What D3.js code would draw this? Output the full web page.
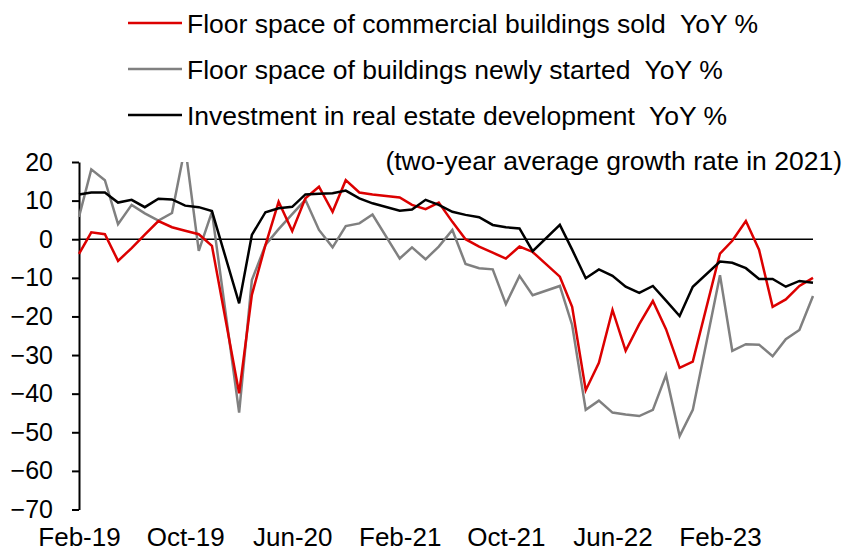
<!DOCTYPE html>
<html>
<head>
<meta charset="utf-8">
<script src="https://cdn.jsdelivr.net/npm/d3@7/dist/d3.min.js"></script>
<style>
  body { margin: 0; background: #fff; }
  svg text { font-family: Arial, "Liberation Sans", sans-serif; fill: #000; }
</style>
</head>
<body>
<script>
const width = 846, height = 552;

// monthly, Feb-19 .. Sep-23 (no January figures are published, so those are null)
const months = d3.timeMonth.range(new Date(2019, 1, 1), new Date(2023, 9, 1));

const soldYoY = [
  -3.8, 1.8, 1.3, -5.6, -2.3, 1.2, 4.7, 3.1, 2.2, 1.3, -1.7,
  null, -39.9, -14.4, -1.5, 9.7, 2.1, 10.6, 13.6, 7.1, 15.3, 12.1, 11.6,
  null, 10.8, 8.9, 7.8, 9.5, 4.5, 0.0, -1.9, -3.5, -5.0, -1.9, -3.3,
  null, -9.7, -17.5, -39.1, -32.0, -18.3, -28.9, -22.0, -16.0, -23.3, -33.3, -31.7,
  null, -3.7, -0.4, 4.7, -2.7, -17.5, -15.6, -12.1, -10.0
];
const startedYoY = [
  5.8, 18.1, 15.3, 3.9, 8.9, 6.7, 4.8, 6.8, 24.0, -3.0, 7.1,
  null, -44.9, -10.6, -1.5, 2.6, 6.5, 10.2, 2.4, -2.1, 3.4, 4.1, 6.4,
  null, -5.0, -2.1, -5.2, -1.9, 2.4, -6.4, -7.5, -7.8, -16.8, -9.5, -14.5,
  null, -12.1, -22.2, -44.2, -41.8, -44.9, -45.4, -45.8, -44.2, -35.2, -51.0, -44.2,
  null, -9.3, -28.9, -27.2, -27.3, -30.3, -25.9, -23.5, -14.7
];
const investYoY = [
  11.6, 12.1, 12.1, 9.5, 10.2, 8.3, 10.5, 10.3, 8.7, 8.3, 7.3,
  null, -16.6, 1.1, 7.0, 8.0, 8.4, 11.6, 11.8, 11.9, 12.6, 10.6, 9.3,
  null, 7.4, 7.7, 10.2, 8.9, 7.1, 6.3, 5.7, 3.7, 3.1, 2.8, -3.1,
  null, 3.7, -2.7, -10.1, -7.8, -9.5, -12.3, -13.9, -12.1, -15.9, -19.9, -12.3,
  null, -5.8, -6.1, -7.5, -10.3, -10.3, -12.3, -10.8, -11.3
];

const seriesNames = [
  "Floor space of commercial buildings sold  YoY %",
  "Floor space of buildings newly started  YoY %",
  "Investment in real estate development  YoY %"
];
const seriesColors = ["#dc0000", "#808080", "#000000"];
const legendNote = "(two-year average growth rate in 2021)";

const tickLabels = ["Feb-19", "Oct-19", "Jun-20", "Feb-21", "Oct-21", "Jun-22", "Feb-23"];
const yTicks = [20, 10, 0, -10, -20, -30, -40, -50, -60, -70];

const plotLeft = 79, plotRight = 813, plotTop = 162, plotBottom = 509.5;

const svg = d3.select("body")
  .append("svg")
  .attr("width", width)
  .attr("height", height);

// scales
const x = d3.scaleTime()
  .domain([months[0], months[months.length - 1]])
  .range([plotLeft, plotRight]);

const y = d3.scaleLinear()
  .domain([-70, 20])
  .range([plotBottom, plotTop]);

svg.append("clipPath")
  .attr("id", "plotClip")
  .append("rect")
  .attr("x", plotLeft - 5)
  .attr("y", plotTop)
  .attr("width", plotRight - plotLeft + 10)
  .attr("height", plotBottom - plotTop);

// y axis
const yAxis = svg.append("g")
  .attr("transform", "translate(" + plotLeft + ",0)")
  .call(d3.axisLeft(y).tickValues(yTicks).tickSize(7).tickSizeOuter(0).tickPadding(19));
yAxis.select(".domain").attr("stroke", "#000").attr("stroke-width", 2);
yAxis.selectAll(".tick line").attr("stroke", "#000").attr("stroke-width", 2);
yAxis.selectAll("text").style("font-size", "25px");

// x axis labels (no ticks, no line: the zero line plays that part)
const tickDates = tickLabels.map(d => d3.timeParse("%b-%y")(d));
const xAxis = svg.append("g")
  .attr("transform", "translate(0," + plotBottom + ")")
  .call(d3.axisBottom(x).tickValues(tickDates).tickFormat(d3.timeFormat("%b-%y")).tickSize(0).tickPadding(18.5));
xAxis.select(".domain").remove();
xAxis.selectAll("text").style("font-size", "26px");

// zero line
svg.append("line")
  .attr("x1", x(months[0]))
  .attr("x2", x(months[months.length - 1]))
  .attr("y1", y(0))
  .attr("y2", y(0))
  .attr("stroke", "#000")
  .attr("stroke-width", 1.5);

// lines, drawn gray first so red and black sit on top
const line = d3.line()
  .x(d => x(d.date))
  .y(d => y(d.value));

const allSeries = [soldYoY, startedYoY, investYoY];
[1, 0, 2].forEach(i => {
  const pts = months
    .map((m, j) => ({ date: m, value: allSeries[i][j] }))
    .filter(d => d.value != null);
  svg.append("path")
    .datum(pts)
    .attr("clip-path", "url(#plotClip)")
    .attr("d", line)
    .attr("fill", "none")
    .attr("stroke", seriesColors[i])
    .attr("stroke-width", 2.5)
    .attr("stroke-linejoin", "miter");
});

// legend
const legendY = [23, 69, 115];
seriesNames.forEach((name, i) => {
  svg.append("line")
    .attr("x1", 128).attr("x2", 182)
    .attr("y1", legendY[i]).attr("y2", legendY[i])
    .attr("stroke", seriesColors[i])
    .attr("stroke-width", 2.5);
  svg.append("text")
    .attr("x", 187)
    .attr("y", legendY[i] + 9.5)
    .style("font-size", "26.5px")
    .style("white-space", "pre")
    .text(name);
});
svg.append("text")
  .attr("x", 842)
  .attr("y", 169.5)
  .attr("text-anchor", "end")
  .style("font-size", "26.5px")
  .text(legendNote);
</script>
</body>
</html>
